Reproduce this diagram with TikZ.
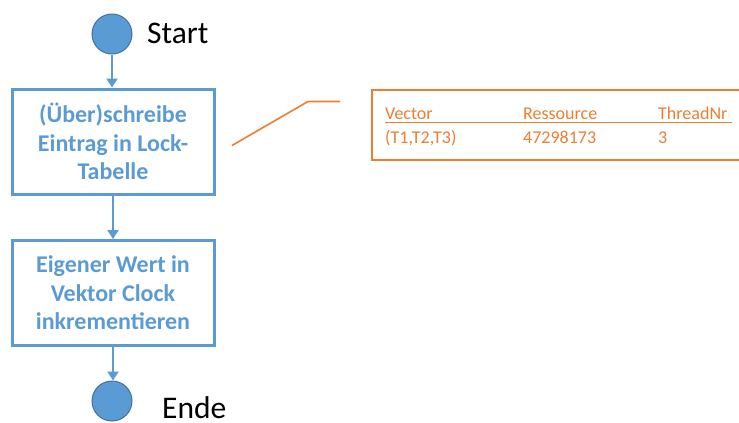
\documentclass[tikz,border=0pt]{standalone}
\usepackage{fontspec}
\setmainfont{Carlito}
\usetikzlibrary{arrows.meta}
\definecolor{flowblue}{HTML}{5B9BD5}
\definecolor{flowedge}{HTML}{41719C}
\definecolor{noteorange}{HTML}{ED7D31}
\tikzset{
  terminal/.style={circle, fill=flowblue, draw=flowedge, line width=1pt, minimum size=40pt, inner sep=0pt},
  termlabel/.style={anchor=base west, inner sep=0pt, font=\fontsize{31.5}{36}\selectfont},
  process/.style={draw=flowblue, line width=3pt, minimum width=202pt, minimum height=105pt,
    inner sep=0pt, align=center, text=flowblue, font=\bfseries\fontsize{24}{28.5}\selectfont},
  flow/.style={draw=flowblue, line width=2.6pt, -{Triangle[width=11pt,length=9pt]}},
  tabletext/.style={anchor=base west, inner sep=0pt, text=noteorange, font=\fontsize{18}{21}\selectfont},
  noteline/.style={draw=noteorange, line width=1.6pt}
}
\begin{document}
\begin{tikzpicture}[x=1pt, y=-1pt]
\useasboundingbox (0,0) rectangle (739,423);

% flow chart
\node[terminal] (start) at (112,34) {};
\node[termlabel] (startlbl) at (147,43) {Start};
\node[process] (write) at (113,141.5) {(Über)schreibe\\Eintrag in Lock-\\Tabelle};
\node[process] (incr) at (113,293) {Eigener Wert in\\Vektor Clock\\inkrementieren};
\node[terminal] (stop) at (112,401) {};
\node[termlabel] (stoplbl) at (162,418.5) {Ende};

\draw[flow] (start.south) -- (start.south |- write.north);
\draw[flow] (write.south) -- (write.south |- incr.north);
\draw[flow] (incr.south) -- (incr.south |- stop.north);

% lock table annotation
\node[draw=noteorange, line width=1.6pt, anchor=north west, minimum width=380pt,
      minimum height=70pt, inner sep=0pt] (table) at (371,89) {};
\node[tabletext] (hvec) at (385,119) {Vector};
\node[tabletext] (hres) at (523,119) {Ressource};
\node[tabletext] (hthr) at (658,119) {ThreadNr};
\node[tabletext] (vvec) at (385,143) {(T1,T2,T3)};
\node[tabletext] (vres) at (523,143) {47298173};
\node[tabletext] (vthr) at (658,143) {3};
\draw[draw=noteorange, line width=1pt] (385,122) -- (732,122);

% callout from the process step to the table
\coordinate (callA) at (232,145.5);
\coordinate (callB) at (308,101.5);
\coordinate (callC) at (340,101.5);
\draw[noteline] (callA) -- (callB) -- (callC);
\end{tikzpicture}
\end{document}
